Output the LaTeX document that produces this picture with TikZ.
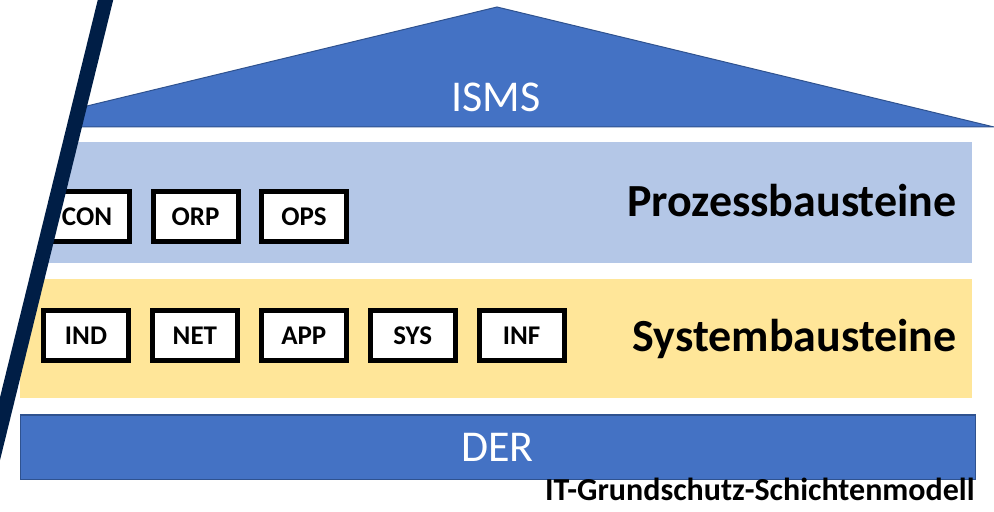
\documentclass[tikz,border=0pt]{standalone}
\usepackage{fontspec}
\setmainfont{Carlito}
\usetikzlibrary{positioning}
\definecolor{isblue}{HTML}{4472C4}
\definecolor{isedge}{HTML}{2F528F}
\definecolor{islight}{HTML}{B4C7E7}
\definecolor{isyellow}{HTML}{FFE699}
\definecolor{isnavy}{HTML}{001E46}
\tikzset{
  band/.style={rectangle, minimum width=476pt, minimum height=60.5pt, inner sep=0pt, draw=none},
  bbox/.style={rectangle, draw=black, line width=2.5pt, fill=white, minimum width=42.5pt,
    minimum height=25pt, inner sep=0pt, font=\fontsize{13.5}{15}\selectfont\bfseries},
  bandlabel/.style={anchor=base east, inner sep=0pt, font=\fontsize{23}{26}\selectfont\bfseries},
  whitelabel/.style={text=white, inner sep=0pt, font=\fontsize{22}{26}\selectfont},
}

\begin{document}
\begin{tikzpicture}[x=0.5pt, y=-0.5pt]
  \useasboundingbox (0,0) rectangle (994,512);
  \clip (0,0) rectangle (994,512);
  % layers
  \node[band, fill=islight] (proz) at (496,202.5) {};
  \node[band, fill=isyellow, minimum height=59.5pt] (sys) at (496,338.5) {};
  \node[band, fill=isblue, draw=isedge, line width=0.5pt, minimum width=477.5pt, minimum height=32pt,
    whitelabel] (der) at (497.5,447) {DER};
  \draw[fill=isblue, draw=isedge, line width=0.5pt] (0,127) -- (497,7) -- (994,127) -- cycle;
  \node[whitelabel] (isms) at (496,97.2) {ISMS};
  \node[bandlabel] (prozlabel) at (957,216.7) {Prozessbausteine};
  \node[bandlabel] (syslabel) at (957,352) {Systembausteine};
  % bausteine
  \foreach \name [count=\i from 0] in {CON, ORP, OPS}
    \node[bbox] (\name) at (87+108.5*\i,217) {\name};
  \foreach \name [count=\i from 0] in {IND, NET, APP, SYS, INF}
    \node[bbox] (\name) at (86+108.9*\i,335.5) {\name};
  \node[anchor=base east, inner sep=0pt, font=\fontsize{16}{19}\selectfont\bfseries] (caption)
    at (975,500) {IT-Grundschutz-Schichtenmodell};
  % cut on the left
  \coordinate (cuttop) at (110.4,-20);
  \coordinate (cutbot) at (-24.9,530);
  \fill[white] (-60,-20) -- (cuttop) -- (cutbot) -- (-60,530) -- cycle;
  \draw[isnavy, line width=7.5pt] (cuttop) -- (cutbot);
\end{tikzpicture}
\end{document}
